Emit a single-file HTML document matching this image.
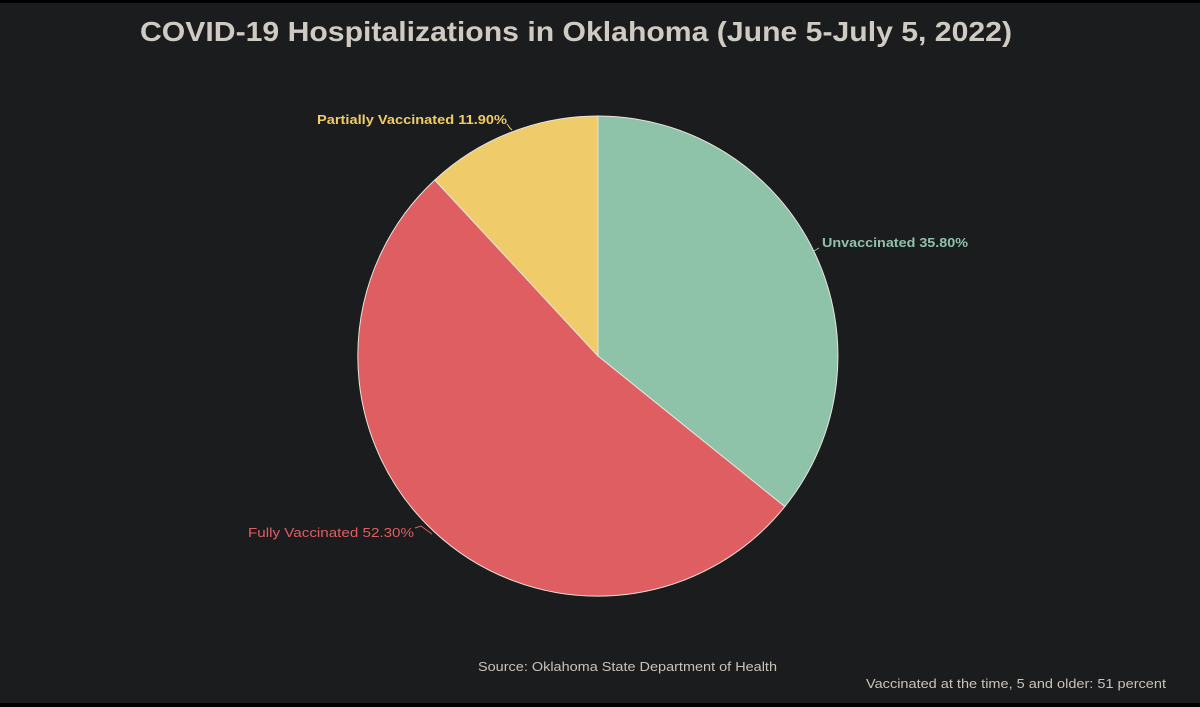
<!DOCTYPE html>
<html><head><meta charset="utf-8"><style>
html,body{margin:0;padding:0;background:#000;}
svg{display:block;font-family:"Liberation Sans",sans-serif;}
</style></head><body>
<svg width="1200" height="707" viewBox="0 0 1200 707">
<rect x="0" y="3" width="1200" height="700" fill="#1b1c1e"/>
<text x="140" y="41" font-size="28" font-weight="bold" fill="#cfcac2" textLength="872" lengthAdjust="spacingAndGlyphs">COVID-19 Hospitalizations in Oklahoma (June 5-July 5, 2022)</text>
<g stroke="#e8e4dc" stroke-width="1">
<path d="M598,356 L598,116 A240,240 0 0 1 784.8,506.6 Z" fill="#8ec3a9"/>
<path d="M598,356 L784.8,506.6 A240,240 0 1 1 434.8,180 Z" fill="#df5e62"/>
<path d="M598,356 L434.8,180 A240,240 0 0 1 598,116 Z" fill="#f0cb69"/>
</g>
<g fill="none" stroke-width="1">
<polyline points="507,124 510,128 512,130" stroke="#f0cb69"/>
<polyline points="819,248 814,251" stroke="#8ec3a9"/>
<polyline points="415,528 421,526 432,534" stroke="#df5e62"/>
</g>
<text x="317" y="124" font-size="13" font-weight="bold" fill="#f0cb69" textLength="190" lengthAdjust="spacingAndGlyphs">Partially Vaccinated 11.90%</text>
<text x="822" y="247" font-size="13" font-weight="bold" fill="#8ec3a9" textLength="146" lengthAdjust="spacingAndGlyphs">Unvaccinated 35.80%</text>
<text x="248" y="537" font-size="13" fill="#df5e62" textLength="166" lengthAdjust="spacingAndGlyphs">Fully Vaccinated 52.30%</text>
<text x="478" y="671" font-size="13" fill="#c8c3bb" textLength="299" lengthAdjust="spacingAndGlyphs">Source: Oklahoma State Department of Health</text>
<text x="866" y="688" font-size="13" fill="#c8c3bb" textLength="300" lengthAdjust="spacingAndGlyphs">Vaccinated at the time, 5 and older: 51 percent</text>
</svg>
</body></html>
